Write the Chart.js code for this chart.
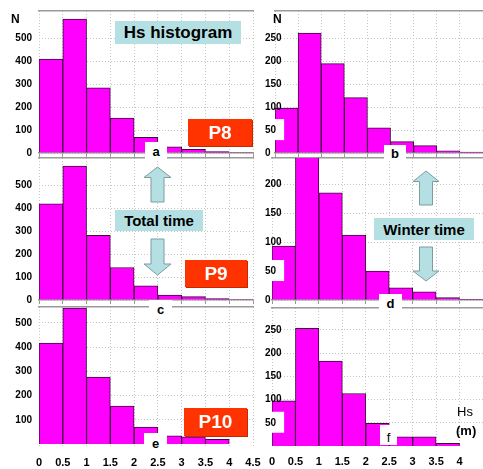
<!DOCTYPE html>
<html>
<head>
<meta charset="utf-8">
<script src="https://cdn.jsdelivr.net/npm/chart.js@4.4.0/dist/chart.umd.min.js"></script>
<style>
  html, body { margin: 0; padding: 0; background: #fff; }
  #wrap { position: relative; width: 483px; height: 469px; overflow: hidden; font-family: "Liberation Sans", Arial, sans-serif; }
  canvas { position: absolute; }
  .box { position: absolute; display: flex; align-items: center; justify-content: center; font-weight: bold; white-space: nowrap; }
  .cyan { background: #b4e0e4; color: #000; }
  .red { background: #ff3300; color: #fff; box-shadow: 1px 1px 0 #c42a00; }
  .lab { position: absolute; background: #fff; display: flex; align-items: flex-end; justify-content: center; font-weight: bold; font-size: 13px; color: #000; }
  .txt { position: absolute; color: #000; white-space: nowrap; }
  svg { position: absolute; left: 0; top: 0; }
</style>
</head>
<body>
<div id="wrap">
  <canvas id="pa"></canvas>
  <canvas id="pb"></canvas>
  <canvas id="pc"></canvas>
  <canvas id="pd"></canvas>
  <canvas id="pe"></canvas>
  <canvas id="pf"></canvas>

  <svg width="483" height="469">
    <g fill="#b4e0e4" stroke="#7d9c9e" stroke-width="1">
      <polygon points="157.5,167 171,177.5 164,177.5 164,202 151,202 151,177.5 144,177.5"/>
      <polygon points="151,239 164,239 164,264 171,264 157.5,275 144,264 151,264"/>
      <polygon points="426,171 439,181.5 432.5,181.5 432.5,205 419.5,205 419.5,181.5 413,181.5"/>
      <polygon points="419.5,247 432.5,247 432.5,271 439,271 426,281 413,271 419.5,271"/>
    </g>
  </svg>

  <div class="box cyan" style="left:115px;top:21px;width:126px;height:23px;font-size:17px;">Hs histogram</div>
  <div class="box cyan" style="left:115px;top:210px;width:88px;height:21px;font-size:15px;">Total time</div>
  <div class="box cyan" style="left:374px;top:218px;width:100px;height:22px;font-size:15px;">Winter time</div>

  <div class="box red" style="left:188px;top:119px;width:64px;height:27px;font-size:19px;">P8</div>
  <div class="box red" style="left:185px;top:260px;width:62px;height:27px;font-size:19px;">P9</div>
  <div class="box red" style="left:184px;top:408px;width:63px;height:28px;font-size:19px;">P10</div>

  <div class="lab" style="left:145px;top:142px;width:22px;height:17px;">a</div>
  <div class="lab" style="left:384px;top:145px;width:22px;height:16px;">b</div>
  <div class="lab" style="left:149px;top:300px;width:23px;height:17px;">c</div>
  <div class="lab" style="left:379px;top:294px;width:23px;height:17px;">d</div>
  <div class="lab" style="left:144px;top:433px;width:23px;height:18px;">e</div>
  <div class="lab" style="left:380px;top:425px;width:17px;height:20px;font-weight:normal;">f</div>

  <div class="txt" style="left:11px;top:12px;font-size:12px;font-weight:bold;">N</div>
  <div class="txt" style="left:273px;top:12px;font-size:12px;font-weight:bold;">N</div>
  <div class="txt" style="left:457px;top:404px;font-size:13px;">Hs</div>
  <div class="txt" style="left:456px;top:423px;font-size:13px;font-weight:bold;">(m)</div>
</div>

<script>
// Hs bins (lower edges, m), 0.5 m wide
const binStart = [0, 0.5, 1, 1.5, 2, 2.5, 3, 3.5, 4];
const xTicks = [0, 0.5, 1, 1.5, 2, 2.5, 3, 3.5, 4, 4.5];

// counts N per bin
const p8Total   = [410, 585, 284, 153, 68, 27, 16, 6, 2];
const p8Winter  = [98, 262, 195, 121, 55, 25, 16, 5, 2];
const p9Total   = [420, 585, 282, 142, 62, 22, 15, 6, 2];
const p9Winter  = [93, 260, 185, 112, 50, 21, 14, 4, 1];
const p10Total  = [417, 562, 277, 157, 70, 34, 30, 20, 0];
const p10Winter = [97, 253, 183, 113, 49, 20, 20, 6, 0];

// y tick labels per panel
const yTicksA = [0, 100, 200, 300, 400, 500];
const yTicksB = [0, 50, 100, 150, 200, 250];
const yTicksC = [0, 100, 200, 300, 400, 500];
const yTicksD = [0, 50, 100, 150, 200];
const yTicksE = [100, 200, 300, 400, 500];
const yTicksF = [50, 100, 150, 200, 250];

const panels = [
  { id: 'pa', vals: p8Total,   yt: yTicksA, min: 0,   max: 620, side: 'L', x: 0,   y: 0,   w: 262, h: 158, area: { l: 39,  t: 11,  r: 253, b: 153 }, xlab: false },
  { id: 'pb', vals: p8Winter,  yt: yTicksB, min: 0,   max: 310, side: 'R', x: 256, y: 0,   w: 227, h: 158, area: { l: 275, t: 11,  r: 483, b: 153 }, xlab: false },
  { id: 'pc', vals: p9Total,   yt: yTicksC, min: 0,   max: 620, side: 'L', x: 0,   y: 153, w: 262, h: 153, area: { l: 39,  t: 158, r: 253, b: 300 }, xlab: false },
  { id: 'pd', vals: p9Winter,  yt: yTicksD, min: 0,   max: 245, side: 'R', x: 256, y: 153, w: 227, h: 153, area: { l: 272, t: 158, r: 483, b: 300 }, xlab: false },
  { id: 'pe', vals: p10Total,  yt: yTicksE, min: -12, max: 566, side: 'L', x: 0,   y: 303, w: 262, h: 166, area: { l: 39,  t: 307, r: 253, b: 447 }, xlab: true },
  { id: 'pf', vals: p10Winter, yt: yTicksF, min: 0,   max: 297, side: 'R', x: 256, y: 303, w: 227, h: 166, area: { l: 272, t: 308, r: 483, b: 446 }, xlab: true },
];

const tickFont = { family: '"Liberation Sans", Arial, sans-serif', size: 10, weight: 'bold' };

panels.forEach(p => {
  const cv = document.getElementById(p.id);
  cv.width = p.w; cv.height = p.h;
  cv.style.left = p.x + 'px'; cv.style.top = p.y + 'px';
  cv.style.width = p.w + 'px'; cv.style.height = p.h + 'px';

  const axisW = p.area.l - p.x;
  const axisH = p.y + p.h - p.area.b;
  const right = p.side === 'R';

  new Chart(cv.getContext('2d'), {
    type: 'bar',
    data: {
      datasets: [{
        data: binStart.map((s, i) => ({ x: s + 0.25, y: p.vals[i] })),
        backgroundColor: '#ff00ff',
        borderColor: '#3c0a3c',
        borderWidth: 1,
        barPercentage: 1,
        categoryPercentage: 1,
        clip: 0,
      }],
    },
    options: {
      responsive: false,
      animation: false,
      devicePixelRatio: 1,
      layout: { padding: { left: 0, top: p.area.t - p.y, right: p.x + p.w - p.area.r, bottom: 0 } },
      plugins: { legend: { display: false }, tooltip: { enabled: false } },
      scales: {
        x: {
          type: 'linear', position: 'bottom', min: 0, max: 4.5, offset: false,
          afterBuildTicks: s => { s.ticks = xTicks.map(v => ({ value: v })); },
          afterFit: s => { s.height = axisH; s.paddingLeft = 0; s.paddingRight = 0; },
          grid: {
            color: '#c4c4c4', lineWidth: 1, offset: false,
            drawTicks: !p.xlab, tickLength: 4, tickColor: '#999', tickWidth: 1, tickBorderDash: [],
          },
          border: { display: !p.xlab, color: '#999', width: 1.5, dash: [1, 2] },
          ticks: {
            display: p.xlab, color: '#000', padding: 9, maxRotation: 0, autoSkip: false,
            font: { family: tickFont.family, size: 11, weight: 'bold' },
            callback: v => (right && v === 4.5) ? '' : String(v),
          },
        },
        x2: {
          type: 'linear', position: 'top', min: 0, max: 4.5, offset: false,
          afterFit: s => { s.height = 0; s.paddingLeft = 0; s.paddingRight = 0; },
          grid: { display: false },
          border: { display: true, color: '#9a9a9a', width: 1.5 },
          ticks: { display: false },
        },
        y: {
          type: 'linear', position: 'left', min: p.min, max: p.max,
          afterBuildTicks: s => { s.ticks = p.yt.map(v => ({ value: v })); },
          afterFit: s => { s.width = axisW; s.paddingTop = 0; s.paddingBottom = 0; },
          grid: { color: '#c4c4c4', lineWidth: 1, drawTicks: false },
          border: { display: false, dash: [1, 2] },
          ticks: {
            color: '#000', font: tickFont, autoSkip: false,
            mirror: right,
            padding: right ? (265 - p.area.l) : 7,
            z: 1,
            showLabelBackdrop: ctx => right && ctx.tick && ctx.tick.value === 50,
            backdropColor: '#fff',
            backdropPadding: { top: 5, bottom: 4, left: 2, right: 8 },
            callback: v => String(v),
          },
        },
      },
    },
  });
});
</script>
</body>
</html>
